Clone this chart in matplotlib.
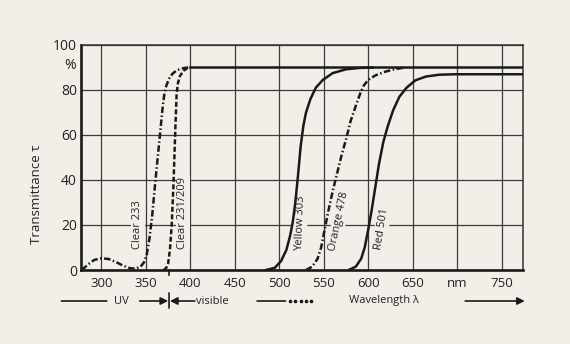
import matplotlib
matplotlib.use('Agg')
import matplotlib.pyplot as plt
from matplotlib.transforms import blended_transform_factory, IdentityTransform

plt.rcParams['font.family'] = ['Open Sans', 'DejaVu Sans']

BG = '#f2efe9'
INK = '#1a1a1a'

# transmittance curves (wavelength in nm, transmittance in %)
clear233_x = [278, 285, 292, 300, 308, 316, 324, 332, 338, 344, 348, 351, 354, 357, 361, 365, 369, 371,
              373, 376, 380, 385, 390, 395, 400]
clear233_y = [0, 2.5, 4.5, 5.2, 4.9, 3.6, 2.0, 0.8, 0.6, 1.5, 3.5, 7, 14, 24, 41, 57, 73, 79,
              82, 85, 87.3, 88.8, 89.5, 89.9, 90]

clear231_x = [370, 373, 375, 377, 379, 381, 383, 384.5, 386, 388, 392, 396, 400]
clear231_y = [0, 1, 3, 9, 20, 38, 62, 78, 83, 86, 88.5, 89.6, 90]

yellow_x = [485, 495, 502, 508, 512, 515, 518, 521, 524, 527, 530, 535, 541, 549, 560, 575, 590, 605]
yellow_y = [0, 1, 4, 9, 15, 21, 30, 42, 55, 64, 70, 76, 81, 84.5, 87.5, 89.2, 89.8, 90]

orange_x = [530, 537, 543, 547, 551, 555, 560, 565, 570, 575, 580, 586, 591, 595, 600, 608, 618, 630, 642]
orange_y = [0, 1.5, 5, 10, 18, 26, 35, 43, 51, 58, 66, 73, 78.5, 82, 84.5, 86.5, 88, 89.3, 90]

red_x = [578, 586, 592, 596, 600, 604, 608, 612, 617, 622, 628, 635, 643, 653, 665, 680, 698, 774]
red_y = [0, 1.5, 5, 10, 18, 27, 37, 47, 57, 64, 71, 77, 81, 84.3, 86, 86.8, 87, 87]

# common 90 % plateau of the clear, yellow and orange glasses
plateau_x = [400, 774]
plateau_y = [90, 90]

x_ticks = [300, 350, 400, 450, 500, 550, 600, 650, 700, 750]
x_labels = ['300', '350', '400', '450', '500', '550', '600', '650', 'nm', '750']
y_ticks = [0, 20, 40, 60, 80, 100]

# (text, x, y, rotation)
curve_labels = [
    ('Clear 233', 341, 20, 90),
    ('Clear 231/209', 391.5, 25.5, 90),
    ('Yellow 303', 523.5, 21, 88),
    ('Orange 478', 567, 21.5, 78),
    ('Red 501', 615, 18.5, 81),
]

uv_edge = 376

fig = plt.figure(figsize=(5.7, 3.44), dpi=100, facecolor=BG)
ax = fig.add_axes([81 / 570, 1 - 270 / 344, 442 / 570, 225 / 344], facecolor=BG)

lw = 1.8
dashdot = (2.6, 1.0, 0.6, 1.0)
ax.plot(clear233_x, clear233_y, color=INK, lw=lw, dashes=dashdot, zorder=3)
ax.plot(clear231_x, clear231_y, color=INK, lw=lw, dashes=(2.0, 1.0), zorder=3)
ax.plot(yellow_x, yellow_y, color=INK, lw=lw, zorder=3)
ax.plot(orange_x, orange_y, color=INK, lw=lw, dashes=dashdot, zorder=3)
ax.plot(red_x, red_y, color=INK, lw=lw, zorder=3)
ax.plot(plateau_x, plateau_y, color=INK, lw=lw, zorder=3)

for text, x, y, rot in curve_labels:
    ax.text(x, y, text, rotation=rot, ha='center', va='center', fontsize=8, color='#222',
            rotation_mode='anchor', zorder=2.5,
            bbox=dict(boxstyle='square,pad=0.15', fc=BG, ec='none'))

ax.set_xlim(277, 774)
ax.set_ylim(0, 100)
ax.set_xticks(x_ticks)
ax.set_xticklabels(x_labels)
ax.set_yticks(y_ticks)
ax.tick_params(axis='both', length=0, colors='#222')
ax.tick_params(axis='x', pad=5, labelsize=9.5)
ax.tick_params(axis='y', pad=3, labelsize=10)
ax.grid(True, color='#3c3c3c', lw=0.9, zorder=1)
ax.set_axisbelow(True)

for side in ['left', 'bottom']:
    ax.spines[side].set_linewidth(1.9)
    ax.spines[side].set_color(INK)
for side in ['top', 'right']:
    ax.spines[side].set_linewidth(1.1)
    ax.spines[side].set_color('#333')

ax.text(-0.012, 91, '%', transform=ax.get_yaxis_transform(), ha='right', va='center',
        fontsize=10, color='#222')
fig.text(36 / 570, 1 - 194 / 344, 'Transmittance τ', rotation=90, ha='center', va='center',
         fontsize=9.5, color='#222')

# UV / visible / wavelength arrows under the axis
yb = 43
xy = ('data', 'figure pixels')
below = blended_transform_factory(ax.transData, IdentityTransform())
line = dict(arrowstyle='-', lw=1.2, color=INK, shrinkA=0, shrinkB=0)
arrow = dict(arrowstyle='-|>', mutation_scale=11, lw=1.2, color=INK, shrinkA=0, shrinkB=0)

ax.plot([uv_edge, uv_edge], [0, -2.2], color=INK, lw=1.2, clip_on=False)
ax.annotate('', xy=(306, yb), xytext=(255, yb), xycoords=xy, textcoords=xy,
            arrowprops=line, annotation_clip=False)
ax.annotate('UV', xy=(322, yb), xycoords=xy, ha='center', va='center', fontsize=8,
            color='#222', annotation_clip=False)
ax.annotate('', xy=(uv_edge - 1, yb), xytext=(343, yb), xycoords=xy, textcoords=xy,
            arrowprops=arrow, annotation_clip=False)
ax.annotate('', xy=(uv_edge + 1, yb), xytext=(405, yb), xycoords=xy, textcoords=xy,
            arrowprops=arrow, annotation_clip=False)
ax.annotate('', xy=(uv_edge, yb + 8), xytext=(uv_edge, yb - 7), xycoords=xy, textcoords=xy,
            arrowprops=line, annotation_clip=False)
ax.annotate('visible', xy=(406, yb), xycoords=xy, ha='left', va='center', fontsize=8,
            color='#222', annotation_clip=False)
ax.annotate('', xy=(507, yb), xytext=(475, yb), xycoords=xy, textcoords=xy,
            arrowprops=line, annotation_clip=False)
ax.plot([512, 518, 524, 530, 536], [yb] * 5, ls='none', marker='o', ms=1.6, color=INK,
        transform=below, clip_on=False)
ax.annotate('Wavelength λ', xy=(618, yb), xycoords=xy, ha='center', va='center', fontsize=8,
            color='#222', annotation_clip=False)
ax.annotate('', xy=(776, yb), xytext=(709, yb), xycoords=xy, textcoords=xy,
            arrowprops=arrow, annotation_clip=False)

fig.savefig('out.png', dpi=100, facecolor=BG)
